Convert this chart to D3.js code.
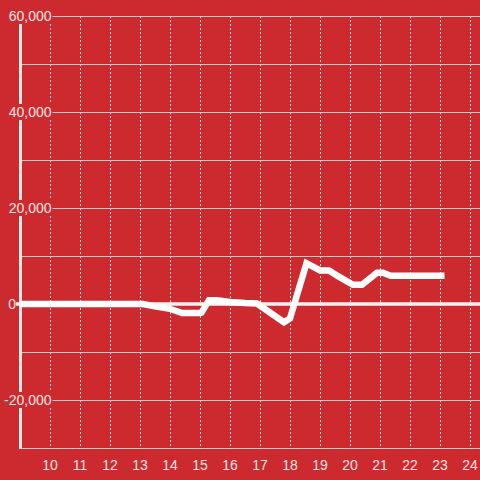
<!doctype html>
<html>
<head>
<meta charset="utf-8">
<title>line chart</title>
<script src="https://cdn.jsdelivr.net/npm/d3@7"></script>
<style>
  body { margin: 0; background: #cd2a2f; }
  svg { display: block; }
  text { font-family: "Liberation Sans", Arial, sans-serif; font-size: 14px; fill: #f6e4e4; }
</style>
</head>
<body>
<script>
// data
var xs = [9, 13.1, 13.5, 14.0, 14.4, 15.0, 15.05, 15.3, 15.55, 16.0, 16.5, 16.9, 17.8, 18.0, 18.55, 19.0, 19.3, 19.6, 20.1, 20.4, 20.9, 21.1, 21.35, 23.15];
var ys = [0, 0, -500, -1000, -1900, -1900, -1800, 800, 800, 400, 200, 100, -3800, -3000, 8500, 7000, 7000, 5800, 4000, 4000, 6500, 6500, 5900, 5900];
var xTicks = [10, 11, 12, 13, 14, 15, 16, 17, 18, 19, 20, 21, 22, 23, 24];
var yGrid = [60000, 50000, 40000, 30000, 20000, 10000, 0, -10000, -20000, -30000];
var yLabels = [60000, 40000, 20000, 0, -20000];

var W = 480, H = 480;
var bg = "#cd2a2f";

var x = d3.scaleLinear().domain([9, 9 + 460 / 30]).range([20, 480]);
var y = d3.scaleLinear().domain([-30000, 60000]).range([448, 16]);

var svg = d3.select("body").append("svg")
    .attr("width", W)
    .attr("height", H);

// vertical dashed grid
svg.selectAll(".vgrid")
    .data(xTicks)
    .enter().append("line")
    .attr("class", "vgrid")
    .attr("x1", function(d) { return x(d) + 0.5; })
    .attr("x2", function(d) { return x(d) + 0.5; })
    .attr("y1", y(60000))
    .attr("y2", y(-30000))
    .attr("stroke", "#e8dcdc")
    .attr("stroke-width", 1)
    .attr("stroke-dasharray", "2,2");

// horizontal grid
svg.selectAll(".hgrid")
    .data(yGrid.filter(function(d) { return d !== 0; }))
    .enter().append("line")
    .attr("class", "hgrid")
    .attr("x1", 20)
    .attr("x2", W)
    .attr("y1", function(d) { return y(d) + 0.5; })
    .attr("y2", function(d) { return y(d) + 0.5; })
    .attr("stroke", "#d9caca")
    .attr("stroke-width", 1);

// y axis line
svg.append("line")
    .attr("x1", 20.5).attr("x2", 20.5)
    .attr("y1", y(60000)).attr("y2", y(-30000) + 1)
    .attr("stroke", "#f2e8e8")
    .attr("stroke-width", 3);

// zero line
svg.append("line")
    .attr("x1", 16).attr("x2", W)
    .attr("y1", y(0)).attr("y2", y(0))
    .attr("stroke", "#f7f2f2")
    .attr("stroke-width", 3.5);

// y labels with background
var fmt = d3.format(",");
var yl = svg.selectAll(".ylab")
    .data(yLabels)
    .enter().append("g")
    .attr("class", "ylab")
    .attr("transform", function(d) { return "translate(" + (d === 0 ? 16 : 51.5) + "," + y(d) + ")"; });

yl.append("rect")
    .attr("x", function(d) { return d === 0 ? -16 : -52; })
    .attr("y", -8)
    .attr("width", function(d) { return d === 0 ? 16 : 53; })
    .attr("height", 16)
    .attr("fill", bg);

yl.append("text")
    .attr("text-anchor", "end")
    .attr("dy", "0.36em")
    .text(function(d) { return fmt(d).replace("−", "-"); });

// x labels
svg.selectAll(".xlab")
    .data(xTicks)
    .enter().append("text")
    .attr("class", "xlab")
    .attr("x", function(d) { return x(d); })
    .attr("y", 465)
    .attr("dy", "0.36em")
    .attr("text-anchor", "middle")
    .text(function(d) { return d; });

// data line
var line = d3.line()
    .x(function(d) { return x(d[0]); })
    .y(function(d) { return y(d[1]); });

svg.append("path")
    .datum(d3.zip(xs, ys))
    .attr("d", line)
    .attr("fill", "none")
    .attr("stroke", "#ffffff")
    .attr("stroke-width", 6.5)
    .attr("stroke-linejoin", "miter");
</script>
</body>
</html>
